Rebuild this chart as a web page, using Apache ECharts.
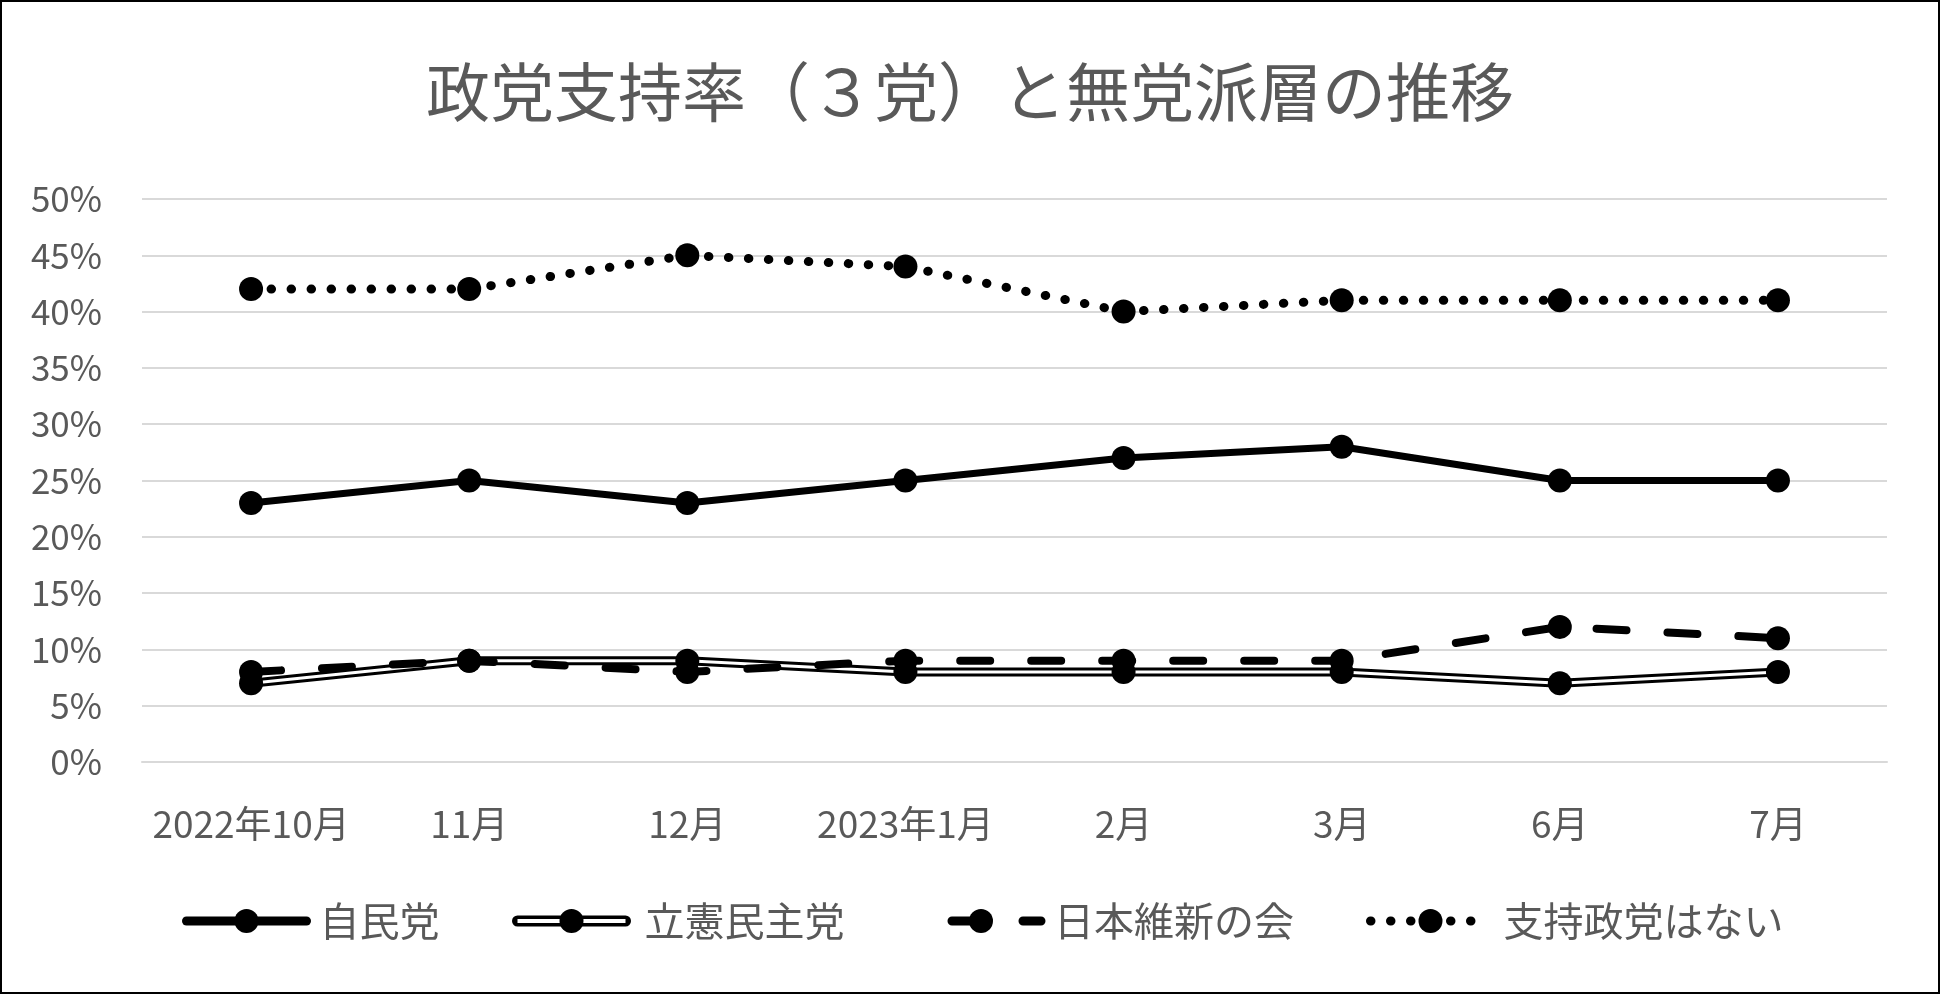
<!DOCTYPE html>
<html>
<head>
<meta charset="utf-8">
<script src="https://cdn.jsdelivr.net/npm/echarts@6/dist/echarts.min.js"></script>
<style>
html,body{margin:0;padding:0;background:#fff;}
#chart{width:1940px;height:994px;}
</style>
</head>
<body>
<div id="chart"></div>
<script>
const categories = ['2022年10月', '11月', '12月', '2023年1月', '2月', '3月', '6月', '7月'];
const ldp = [23, 25, 23, 25, 27, 28, 25, 25];
const cdp = [7, 9, 9, 8, 8, 8, 7, 8];
const ishin = [8, 9, 8, 9, 9, 9, 12, 11];
const noParty = [42, 42, 45, 44, 40, 41, 41, 41];
const seriesNames = ['自民党', '立憲民主党', '日本維新の会', '支持政党はない'];
const titleText = '政党支持率（３党）と無党派層の推移';

const FONT = '"Noto Sans CJK JP", "Noto Sans", sans-serif';
const TXT = '#595959';
const SYM = 24;

const cdpIconSvg = '<svg xmlns="http://www.w3.org/2000/svg" width="120" height="30" viewBox="0 0 120 30">' +
  '<line x1="6" y1="15" x2="114" y2="15" stroke="#000" stroke-width="11" stroke-linecap="round"/>' +
  '<line x1="6" y1="15" x2="114" y2="15" stroke="#fff" stroke-width="4"/>' +
  '<circle cx="60" cy="15" r="12" fill="#000"/></svg>';
const cdpIcon = 'image://data:image/svg+xml;charset=utf-8,' + encodeURIComponent(cdpIconSvg);

const chart = echarts.init(document.getElementById('chart'), null, {renderer: 'canvas'});
chart.setOption({
  backgroundColor: '#fff',
  animation: false,
  title: {
    text: titleText,
    left: 'center',
    top: 55,
    textStyle: {fontFamily: FONT, fontSize: 64, fontWeight: 'normal', color: TXT}
  },
  grid: {left: 142, right: 53, top: 199, bottom: 232, containLabel: false},
  xAxis: {
    type: 'category',
    data: categories,
    boundaryGap: true,
    axisLine: {show: true, lineStyle: {color: '#d9d9d9', width: 2}},
    axisTick: {show: false},
    axisLabel: {fontFamily: FONT, fontSize: 37, color: TXT, margin: 43, interval: 0}
  },
  yAxis: {
    type: 'value',
    min: 0,
    max: 50,
    interval: 5,
    axisLine: {show: false},
    axisTick: {show: false},
    splitLine: {lineStyle: {color: '#d9d9d9', width: 2}},
    axisLabel: {fontFamily: FONT, fontSize: 35, color: TXT, margin: 40, formatter: '{value}%'}
  },
  legend: {
    bottom: 48,
    left: 177,
    itemWidth: 120,
    itemHeight: 30,
    itemGap: 72,
    textStyle: {fontFamily: FONT, fontSize: 40, color: TXT, padding: [0, 0, 0, 8]},
    data: [
      {name: seriesNames[0], lineStyle: {color: '#000', width: 9, cap: 'round'}},
      {name: seriesNames[1], icon: cdpIcon},
      {name: seriesNames[2], lineStyle: {color: '#000', width: 9, type: [30, 41], dashOffset: 40, cap: 'round'}},
      {name: seriesNames[3], lineStyle: {color: '#000', width: 9, type: [0.5, 19.5], cap: 'round'}}
    ]
  },
  graphic: [{
    type: 'rect',
    shape: {x: 1, y: 1, width: 1938, height: 992},
    style: {fill: 'none', stroke: '#000', lineWidth: 2},
    silent: true,
    z: 100
  }],
  series: [
    {
      name: seriesNames[0], type: 'line', data: ldp, z: 2,
      symbol: 'circle', symbolSize: SYM, showAllSymbol: true,
      itemStyle: {color: '#000'},
      lineStyle: {color: '#000', width: 7, cap: 'round', join: 'round'}
    },
    {
      name: seriesNames[1], type: 'line', data: cdp, z: 2,
      symbol: 'none',
      itemStyle: {color: '#000'},
      lineStyle: {color: '#000', width: 9, join: 'round'}
    },
    {
      name: seriesNames[1], type: 'line', data: cdp, z: 3,
      symbol: 'none',
      itemStyle: {color: '#000'},
      lineStyle: {color: '#fff', width: 3, join: 'round'}
    },
    {
      name: seriesNames[1], type: 'line', data: cdp, z: 4,
      symbol: 'circle', symbolSize: SYM, showAllSymbol: true,
      itemStyle: {color: '#000'},
      lineStyle: {width: 0, opacity: 0}
    },
    {
      name: seriesNames[2], type: 'line', data: ishin, z: 5,
      symbol: 'circle', symbolSize: SYM, showAllSymbol: true,
      itemStyle: {color: '#000'},
      lineStyle: {color: '#000', width: 8, type: [30, 41], cap: 'round', join: 'round'}
    },
    {
      name: seriesNames[3], type: 'line', data: noParty, z: 5,
      symbol: 'circle', symbolSize: SYM, showAllSymbol: true,
      itemStyle: {color: '#000'},
      lineStyle: {color: '#000', width: 9, type: [0.5, 19.5], cap: 'round', join: 'round'}
    }
  ]
});
</script>
</body>
</html>
